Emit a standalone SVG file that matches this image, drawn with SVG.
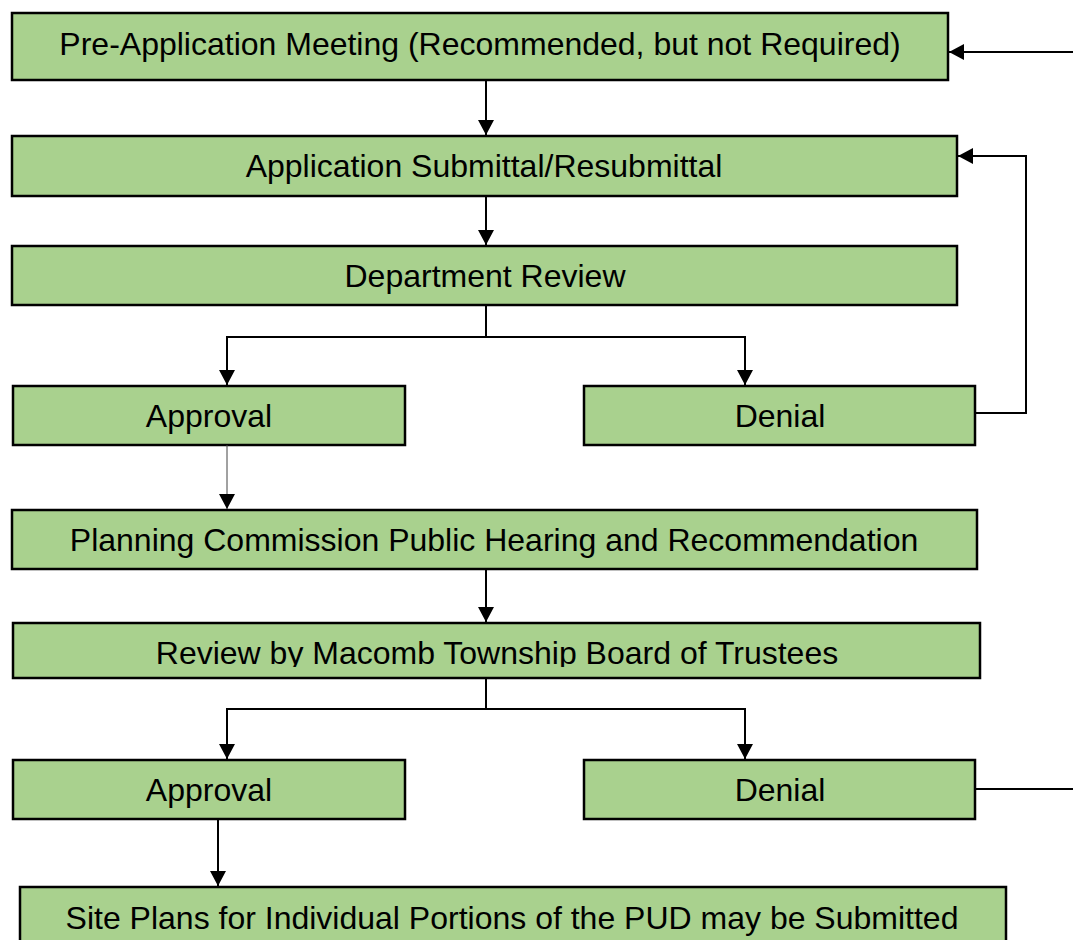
<svg xmlns="http://www.w3.org/2000/svg" width="1073" height="940" viewBox="0 0 1073 940">
  <style>
    .box { fill: #A9D18E; stroke: #000; stroke-width: 2.5; }
    .lbl { font-family: "Liberation Sans", Arial, sans-serif; font-size: 32px; fill: #000; text-anchor: middle; }
    .ln { fill: none; stroke: #000; stroke-width: 2; }
    .thin { fill: none; stroke: #444; stroke-width: 1; }
  </style>
  <defs>
    <marker id="arrow" viewBox="0 0 15 16" refX="15" refY="8" markerWidth="15" markerHeight="16" markerUnits="userSpaceOnUse" orient="auto">
      <path d="M0,0 L15,8 L0,16 Z" fill="#000"/>
    </marker>
    <clipPath id="clipReview">
      <rect x="13" y="623" width="967" height="44"/>
    </clipPath>
  </defs>

  <g id="pre-application">
    <rect class="box" x="12" y="13" width="936" height="67"/>
    <text class="lbl" x="480" y="55">Pre-Application Meeting (Recommended, but not Required)</text>
  </g>
  <g id="application-submittal">
    <rect class="box" x="12" y="136" width="945" height="60"/>
    <text class="lbl" x="484" y="177">Application Submittal/Resubmittal</text>
  </g>
  <g id="department-review">
    <rect class="box" x="12" y="246" width="945" height="59"/>
    <text class="lbl" x="485" y="287">Department Review</text>
  </g>
  <g id="approval-1">
    <rect class="box" x="13" y="386" width="392" height="59"/>
    <text class="lbl" x="209" y="427">Approval</text>
  </g>
  <g id="denial-1">
    <rect class="box" x="584" y="386" width="391" height="59"/>
    <text class="lbl" x="780" y="427">Denial</text>
  </g>
  <g id="planning-commission">
    <rect class="box" x="12" y="510" width="965" height="59"/>
    <text class="lbl" x="494" y="551">Planning Commission Public Hearing and Recommendation</text>
  </g>
  <g id="board-review">
    <rect class="box" x="13" y="623" width="967" height="55"/>
    <text class="lbl" x="497" y="664" clip-path="url(#clipReview)">Review by Macomb Township Board of Trustees</text>
  </g>
  <g id="approval-2">
    <rect class="box" x="13" y="760" width="392" height="59"/>
    <text class="lbl" x="209" y="801">Approval</text>
  </g>
  <g id="denial-2">
    <rect class="box" x="584" y="760" width="391" height="59"/>
    <text class="lbl" x="780" y="801">Denial</text>
  </g>
  <g id="site-plans">
    <rect class="box" x="20" y="887" width="986" height="70"/>
    <text class="lbl" x="512" y="929">Site Plans for Individual Portions of the PUD may be Submitted</text>
  </g>

  <g id="connectors">
    <path class="ln" d="M1073,52 H949" marker-end="url(#arrow)"/>
    <path class="ln" d="M486,80 V135" marker-end="url(#arrow)"/>
    <path class="ln" d="M486,196 V245" marker-end="url(#arrow)"/>
    <path class="ln" d="M486,305 V337"/>
    <path class="ln" d="M486,337 H227 V385" marker-end="url(#arrow)"/>
    <path class="ln" d="M486,337 H745 V385" marker-end="url(#arrow)"/>
    <path class="ln" d="M975,413 H1026 V156 H958" marker-end="url(#arrow)"/>
    <path class="thin" d="M227,445 V509" marker-end="url(#arrow)"/>
    <path class="ln" d="M486,569 V622" marker-end="url(#arrow)"/>
    <path class="ln" d="M486,678 V709"/>
    <path class="ln" d="M486,709 H227 V759" marker-end="url(#arrow)"/>
    <path class="ln" d="M486,709 H745 V759" marker-end="url(#arrow)"/>
    <path class="ln" d="M218,819 V886" marker-end="url(#arrow)"/>
    <path class="ln" d="M975,789 H1073"/>
  </g>
</svg>
